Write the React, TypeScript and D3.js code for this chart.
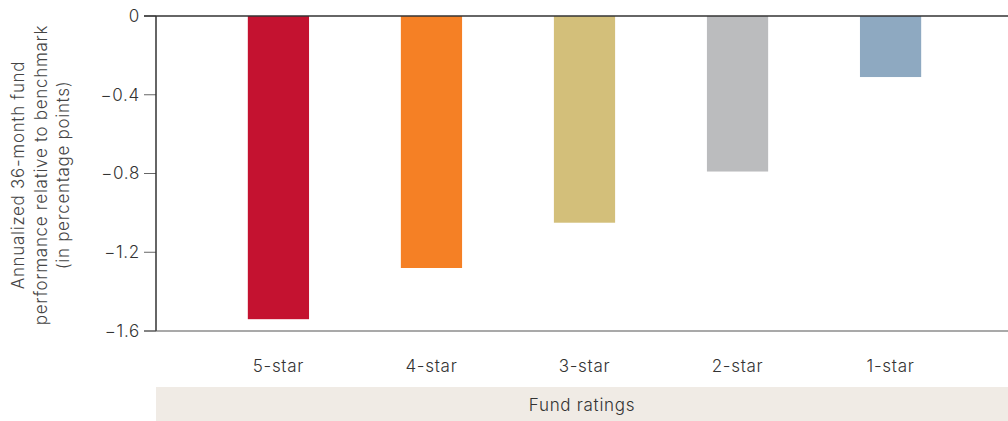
import React from 'react';
import * as d3 from 'd3';

const ratings = ['5-star', '4-star', '3-star', '2-star', '1-star'];
const performance = [-1.54, -1.28, -1.05, -0.79, -0.31];
const barColors = ['#c41230', '#f58025', '#d3bf7a', '#bbbcbe', '#8ea9c1'];
const yTicks = [0, -0.4, -0.8, -1.2, -1.6];
const yTitle = ['Annualized 36-month fund', 'performance relative to benchmark', '(in percentage points)'];
const xTitle = 'Fund ratings';

const W = 1008;
const H = 421;
const left = 156;
const top = 16;
const bottom = 331;

const App: React.FC = () => {
  const x = d3.scaleBand<string>().domain(ratings).range([left, 1013]).padding(0.6);
  const y = d3.scaleLinear().domain([0, -1.6]).range([top, bottom]);
  const fmt = (v: number) => (v === 0 ? '0' : d3.format('.1f')(v));
  const font = 'Inter, Roboto, sans-serif';
  const fs = 17;
  const ls = 0.7;

  return (
    <svg
      width={W}
      height={H}
      viewBox={`0 0 ${W} ${H}`}
      style={{ position: 'absolute', left: 0, top: 0, display: 'block', background: '#fff' }}
      fontFamily={font}
      fontWeight={300}
      letterSpacing={ls}
    >
      {/* bars */}
      {ratings.map((r, i) => (
        <rect
          key={r}
          x={x(r)}
          y={y(0)}
          width={x.bandwidth()}
          height={y(performance[i]) - y(0)}
          fill={barColors[i]}
        />
      ))}

      {/* y ticks and labels */}
      {yTicks.map(t => (
        <g key={t}>
          <line x1={left - 12} x2={left} y1={y(t)} y2={y(t)} stroke="#666" strokeWidth={1} />
          <text
            x={left - 16}
            y={y(t)}
            dy="0.35em"
            textAnchor="end"
            fontSize={fs}
            fill="#333"
          >
            {fmt(t)}
          </text>
        </g>
      ))}

      {/* axis lines */}
      <line x1={left} x2={left} y1={y(0)} y2={y(-1.6)} stroke="#333" strokeWidth={1.5} />
      <line x1={left - 12} x2={W} y1={y(0)} y2={y(0)} stroke="#333" strokeWidth={1.5} />
      <line x1={left - 12} x2={W} y1={y(-1.6)} y2={y(-1.6)} stroke="#555" strokeWidth={1.2} />

      {/* category labels */}
      {ratings.map(r => (
        <text
          key={r}
          x={(x(r) ?? 0) + x.bandwidth() / 2}
          y={366}
          dy="0.35em"
          textAnchor="middle"
          fontSize={fs}
          fill="#333"
        >
          {r}
        </text>
      ))}

      {/* x title band */}
      <rect x={left} y={387} width={W - left} height={H - 387} fill="#f0ebe5" />
      <text x={(left + W) / 2} y={405} dy="0.35em" textAnchor="middle" fontSize={fs} fill="#333">
        {xTitle}
      </text>

      {/* y title */}
      <text transform={`translate(41, 175) rotate(-90)`} textAnchor="middle" fontSize={fs} fill="#444">
        {yTitle.map((line, i) => (
          <tspan key={i} x={0} y={(i - 1) * 22.5} dy="0.35em">
            {line}
          </tspan>
        ))}
      </text>
    </svg>
  );
};

export default App;
